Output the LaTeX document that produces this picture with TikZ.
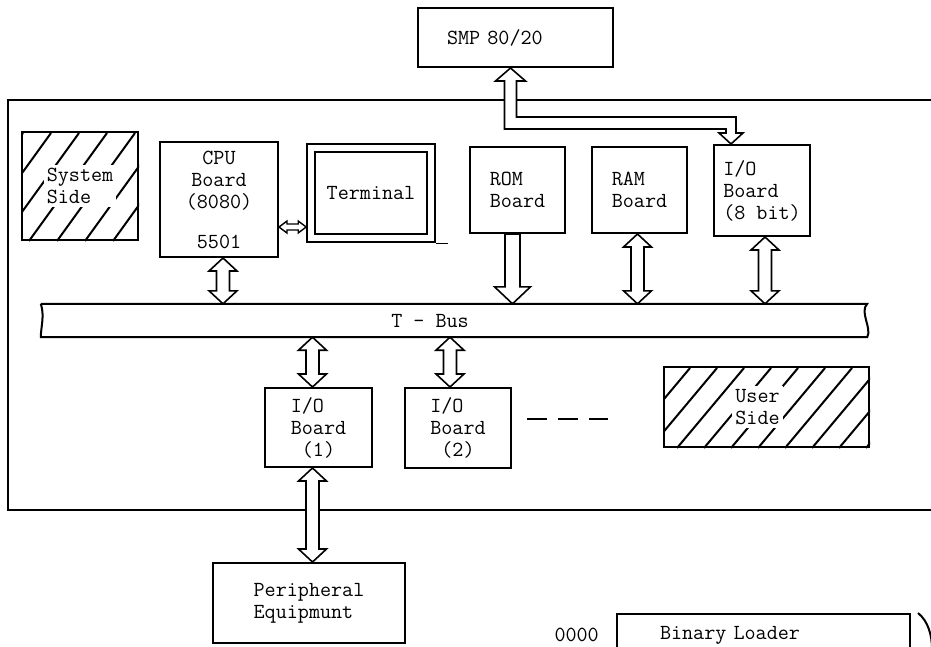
\documentclass[tikz,border=0pt]{standalone}
\usepackage{fontspec}
\usetikzlibrary{calc, positioning}

\tikzset{
  bidir/.style={draw, fill=white, line width=1.6pt, to path={
      let \p1=(\tikztostart), \p2=(\tikztotarget) in
      (\x1,\y1) -- (\x1+14pt,\y1-13pt) -- (\x1+6.5pt,\y1-13pt) -- (\x1+6.5pt,\y2+13pt)
      -- (\x1+14pt,\y2+13pt) -- (\x1,\y2) -- (\x1-14pt,\y2+13pt) -- (\x1-6.5pt,\y2+13pt)
      -- (\x1-6.5pt,\y1-13pt) -- (\x1-14pt,\y1-13pt) -- cycle}},
  onedir/.style={draw, fill=white, line width=1.6pt, to path={
      let \p1=(\tikztostart), \p2=(\tikztotarget) in
      (\x1-7.5pt,\y1) -- (\x1-7.5pt,\y2+17pt) -- (\x1-18pt,\y2+17pt) -- (\x1,\y2)
      -- (\x1+18pt,\y2+17pt) -- (\x1+7.5pt,\y2+17pt) -- (\x1+7.5pt,\y1) -- cycle}},
  sidelink/.style={draw, fill=white, line width=1.4pt, to path={
      let \p1=(\tikztostart), \p2=(\tikztotarget) in
      (\x1,\y1) -- (\x1+8pt,\y1+6pt) -- (\x1+8pt,\y1+3pt) -- (\x2-8pt,\y1+3pt)
      -- (\x2-8pt,\y1+6pt) -- (\x2,\y1) -- (\x2-8pt,\y1-6pt) -- (\x2-8pt,\y1-3pt)
      -- (\x1+8pt,\y1-3pt) -- (\x1+8pt,\y1-6pt) -- cycle}},
}

\begin{document}
\begin{tikzpicture}[
    x=1pt, y=-1pt,
    every node/.style={font=\ttfamily\fontsize{21.5}{22}\selectfont},
    board/.style 2 args={draw, line width=2pt, minimum width=#1, minimum height=#2, inner sep=2pt},
    hatch/.style={line width=2pt},
]
    \useasboundingbox (0,0) rectangle (931,646);

    % Frame of the system
    \draw[line width=2pt] (931,100) -- (8,100) -- (8,510) -- (931,510);

    % Top row
    \node[board={195pt}{59pt}, text width=137pt, align=left] (smp) at (515.5,37.5) {SMP 80/20};
    \node[board={116pt}{108pt}] (sys) at (80,186) {};
    \node[board={118pt}{115pt}, align=center] (cpu) at (219,199.5) {CPU\\Board\\(8080)\\[18pt]5501};
    \node[board={120pt}{90pt}, double, double distance=6pt, line width=1.6pt] (term) at (371,193) {Terminal};
    \node[board={95pt}{86pt}, align=left] (rom) at (517.5,190) {ROM\\Board};
    \node[board={95pt}{86pt}, align=left] (ram) at (639.5,190) {RAM\\Board};
    \node[board={96pt}{91pt}, align=left] (io8) at (762,190.5) {I/O\\Board\\(8 bit)};
    \draw[line width=1pt] ([xshift=4pt,yshift=-5pt]term.south east) -- ++(12,0);

    % Bus
    \node[minimum width=826pt, minimum height=33pt] (bus) at (454,320.5) {};
    \draw[line width=2pt] (bus.north west) -- (bus.north east)
        .. controls +(-8,8) and +(5,-9) .. (bus.south east) -- (bus.south west)
        .. controls +(0,-10) and +(4,12) .. (bus.north west);
    \node at ([xshift=-24pt]bus.center) {T - Bus};

    % Lower row
    \node[board={107pt}{79pt}, align=left] (io1) at (318.5,427.5) {I/O\\Board\\\hphantom{B}(1)};
    \node[board={106pt}{80pt}, align=left] (io2) at (458,428) {I/O\\Board\\\hphantom{B}(2)};
    \draw[line width=2pt, dash pattern=on 20pt off 11pt] (527,419) -- (608,419);
    \node[board={205pt}{80pt}] (user) at (766.5,407) {};
    \node[board={192pt}{80pt}, align=left] (peri) at (309,603) {Peripheral\\Equipmunt};

    % Loader (cut at the page edge)
    \node[board={293pt}{42pt}, anchor=north, text width=207pt, align=left] (loader) at (763.5,613) {Binary Loader};
    \node[left=16pt of loader, inner sep=1pt] (addr) {0000};
    \draw[line width=2pt] ([xshift=7pt]loader.north east) .. controls +(10,8) and +(0,-14) .. ++(14,36);

    % Hatching
    \begin{scope}
      \clip (sys.south west) rectangle (sys.north east);
      \foreach \k in {-76,-48,...,116}
        \draw[hatch] ($(sys.south west)+(\k,0)$) -- ++(78,-108);
    \end{scope}
    \node[fill=white, inner sep=3pt, align=left] at (sys) {System\\Side};
    \begin{scope}
      \clip (user.south west) rectangle (user.north east);
      \foreach \k in {-67,-40,...,205}
        \draw[hatch] ($(user.south west)+(\k,0)$) -- ++(67,-80);
    \end{scope}
    \node[fill=white, inner sep=3pt, align=center] at ([xshift=-9pt]user.center) {User\\Side};

    % Bus links
    \draw[bidir] ([xshift=4pt]cpu.south) to (bus.north);
    \draw[onedir] ([xshift=-5pt]rom.south) to (bus.north);
    \draw[bidir] ([xshift=-2pt]ram.south) to (bus.north);
    \draw[bidir] ([xshift=3pt]io8.south) to (bus.north);
    \draw[bidir] ([xshift=-6pt]io1.north |- bus.south) to (io1.north);
    \draw[bidir] ([xshift=-8pt]io2.north |- bus.south) to (io2.north);
    \draw[bidir] ([xshift=-6pt]io1.south) to (peri.north);
    \draw[sidelink] ([yshift=-27.5pt]cpu.east) to ([xshift=-4pt,yshift=-27.5pt]term.west);

    % Link from SMP to the 8 bit I/O board
    \draw[fill=white, line width=1.6pt]
      let \p1=([xshift=-5pt]smp.south), \p2=([xshift=-31pt]io8.north) in
      (\x1,\y1) -- (\x1+15pt,\y1-13pt) -- (\x1+6pt,\y1-13pt) -- (\x1+6pt,\y1-49pt)
      -- (\x2+5pt,\y1-49pt) -- (\x2+5pt,\y2+11pt) -- (\x2+12pt,\y2+11pt) -- (\x2,\y2)
      -- (\x2-12pt,\y2+11pt) -- (\x2-5pt,\y2+11pt) -- (\x2-5pt,\y1-61pt)
      -- (\x1-6pt,\y1-61pt) -- (\x1-6pt,\y1-13pt) -- (\x1-15pt,\y1-13pt) -- cycle;
\end{tikzpicture}
\end{document}
